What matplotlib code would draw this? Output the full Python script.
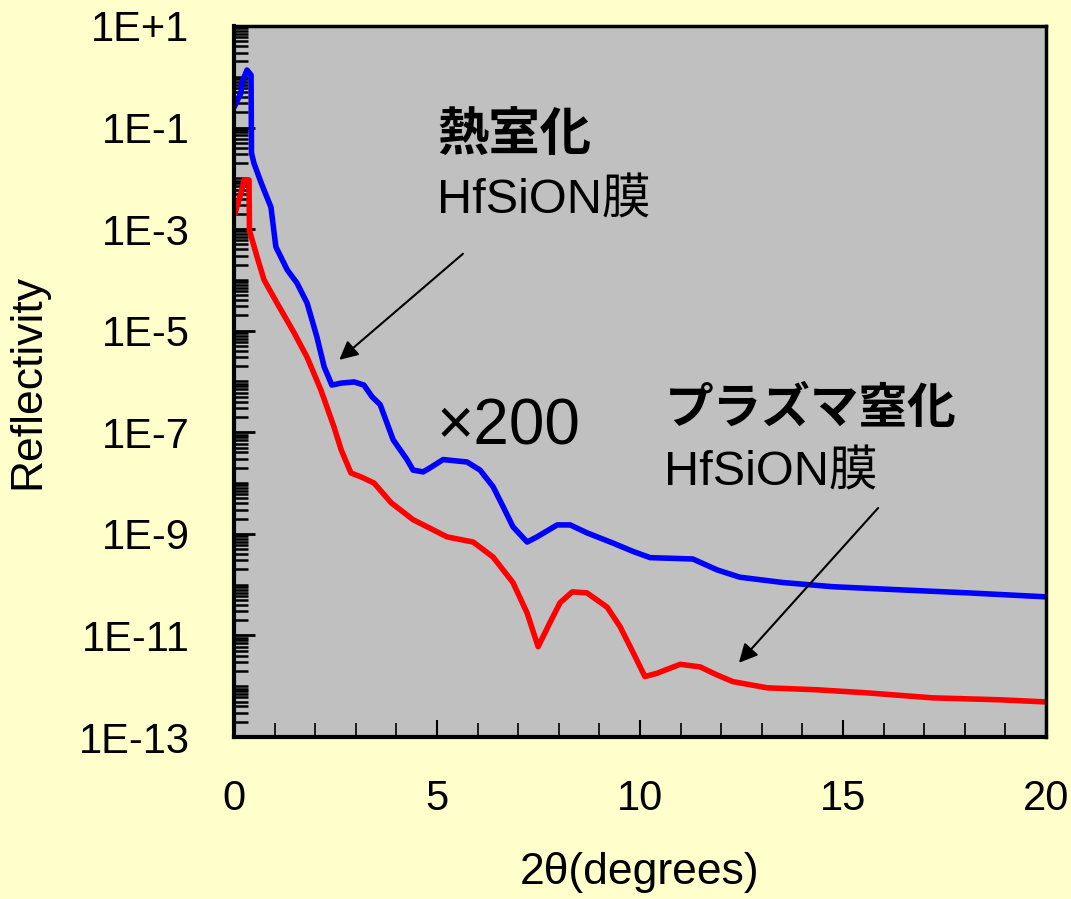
import matplotlib
matplotlib.use("Agg")
import matplotlib.pyplot as plt
from matplotlib.ticker import LogLocator, MultipleLocator, NullFormatter

plt.rcParams['font.family'] = ['Liberation Sans', 'Noto Sans CJK JP']

# thermal nitridation (x200)
x_thermal = [0.03, 0.17, 0.2, 0.32, 0.42, 0.43, 0.49, 0.67, 0.91, 1.03, 1.31, 1.55, 1.8, 2.04,
             2.22, 2.41, 2.64, 2.96, 3.2, 3.4, 3.6, 3.92, 4.26, 4.41, 4.66, 4.83, 5.15, 5.74,
             6.06, 6.38, 6.63, 6.87, 7.22, 7.46, 7.96, 8.28, 8.69, 9.33, 9.83, 10.25, 11.3,
             11.9, 12.46, 13.52, 14.75, 16.4, 18.05, 20.0]
r_thermal = [2.79e-1, 4.8e-1, 7.9e-1, 1.36e+0, 1.08e+0, 3.16e-2, 2.0e-2, 8.1e-3, 2.7e-3, 4.5e-4,
             1.58e-4, 8.7e-5, 3.5e-5, 7.6e-6, 1.95e-6, 8.5e-7, 9.3e-7, 9.8e-7, 8.5e-7, 5.0e-7,
             3.5e-7, 7.1e-8, 2.9e-8, 1.8e-8, 1.66e-8, 2.0e-8, 2.9e-8, 2.6e-8, 1.8e-8, 8.5e-9,
             3.4e-9, 1.38e-9, 6.9e-10, 8.7e-10, 1.5e-9, 1.5e-9, 1.05e-9, 6.6e-10, 4.5e-10,
             3.4e-10, 3.2e-10, 1.95e-10, 1.4e-10, 1.1e-10, 9.1e-11, 7.9e-11, 6.9e-11, 5.75e-11]

# plasma nitridation
x_plasma = [0.03, 0.17, 0.25, 0.37, 0.38, 0.57, 0.74, 1.06, 1.48, 1.8, 2.14, 2.46, 2.64, 2.88,
            3.13, 3.45, 3.87, 4.41, 5.25, 5.89, 6.38, 6.87, 7.22, 7.49, 7.78, 8.03, 8.33, 8.69,
            9.19, 9.51, 9.83, 10.12, 10.42, 10.99, 11.48, 11.9, 12.29, 13.13, 14.36, 15.59,
            17.2, 18.87, 20.0]
r_plasma = [2.1e-3, 5.1e-3, 9.3e-3, 9.3e-3, 9.5e-4, 2.8e-4, 1.0e-4, 3.5e-5, 9.1e-6, 3.0e-6,
            6.8e-7, 1.29e-7, 4.5e-8, 1.58e-8, 1.32e-8, 1.0e-8, 4.1e-9, 1.9e-9, 8.7e-10, 6.9e-10,
            3.5e-10, 1.1e-10, 2.75e-11, 6.0e-12, 1.78e-11, 4.4e-11, 7.2e-11, 6.9e-11, 3.6e-11,
            1.48e-11, 4.6e-12, 1.55e-12, 1.8e-12, 2.7e-12, 2.4e-12, 1.66e-12, 1.23e-12, 9.3e-13,
            8.5e-13, 7.4e-13, 5.9e-13, 5.4e-13, 4.9e-13]

ytick_vals = [1e1, 1e-1, 1e-3, 1e-5, 1e-7, 1e-9, 1e-11, 1e-13]
ytick_labels = ['1E+1', '1E-1', '1E-3', '1E-5', '1E-7', '1E-9', '1E-11', '1E-13']
xtick_vals = [0, 5, 10, 15, 20]

fig = plt.figure(figsize=(10.71, 8.99), dpi=100, facecolor='#FFFFCC')
ax = fig.add_axes([0.2185, 0.1802, 0.7582, 0.7909])
ax.set_facecolor('#C0C0C0')

ax.plot(x_thermal, r_thermal, color='#0000FF', lw=4, solid_joinstyle='round')
ax.plot(x_plasma, r_plasma, color='#FF0000', lw=4, solid_joinstyle='round')

ax.set_yscale('log')
ax.set_xlim(0, 20)
ax.set_ylim(1e-13, 1e1)

ax.set_yticks(ytick_vals)
ax.set_yticklabels(ytick_labels)
ax.yaxis.set_minor_locator(LogLocator(base=10, subs=range(1, 10), numticks=40))
ax.yaxis.set_minor_formatter(NullFormatter())

ax.set_xticks(xtick_vals)
ax.xaxis.set_minor_locator(MultipleLocator(1))

ax.tick_params(axis='both', which='both', direction='in', colors='black')
ax.tick_params(axis='y', which='major', length=15, width=2, labelsize=30, pad=32)
ax.tick_params(axis='y', which='minor', length=10, width=1.8)
ax.tick_params(axis='x', which='major', length=12, width=1.5, labelsize=30, pad=30)
ax.tick_params(axis='x', which='minor', length=10, width=1.2)

for side in ['left', 'bottom']:
    ax.spines[side].set_linewidth(3)
for side in ['top', 'right']:
    ax.spines[side].set_linewidth(2.5)

ax.set_ylabel('Reflectivity', fontsize=32, labelpad=22)
ax.set_xlabel('2θ(degrees)', fontsize=32, labelpad=24)

ax.text(5.0, 10**-1.18, '熱室化', fontsize=37, fontweight='bold', va='center', ha='left')
ax.text(5.0, 10**-2.45, 'HfSiON膜', fontsize=35, va='center', ha='left')
ax.text(5.0, 10**-6.91, '×200', fontsize=46, va='center', ha='left')
ax.text(10.6, 10**-6.56, 'プラズマ窒化', fontsize=35, fontweight='bold', va='center', ha='left')
ax.text(10.6, 10**-7.8, 'HfSiON膜', fontsize=35, va='center', ha='left')

ax.annotate('', xy=(2.54, 10**-5.61), xytext=(5.69, 10**-3.45),
            arrowprops=dict(arrowstyle='-|>', color='black', lw=1.5, mutation_scale=28))
ax.annotate('', xy=(12.39, 10**-11.58), xytext=(15.91, 10**-8.45),
            arrowprops=dict(arrowstyle='-|>', color='black', lw=1.5, mutation_scale=28))

fig.savefig('out.png', dpi=100, facecolor=fig.get_facecolor())
